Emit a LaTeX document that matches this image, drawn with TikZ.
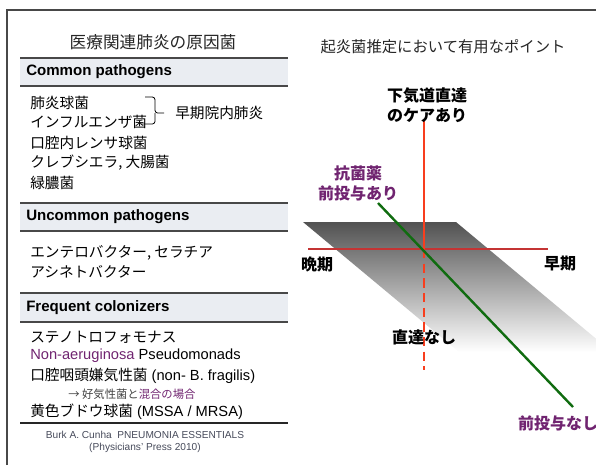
\documentclass[tikz,border=0pt]{standalone}
\usepackage{fontspec}
\setmainfont{Liberation Sans}
\newfontfamily\jp{Noto Sans CJK JP}
\usetikzlibrary{positioning,calc}
\definecolor{barfill}{RGB}{234,237,242}
\definecolor{barline}{RGB}{72,72,72}
\definecolor{plum}{RGB}{112,36,112}
\definecolor{axisred}{RGB}{196,52,52}
\definecolor{carered}{RGB}{248,62,30}
\definecolor{abxgreen}{RGB}{16,108,16}
\definecolor{refgray}{RGB}{70,74,90}
\tikzset{
  item/.style={anchor=west,inner sep=0pt,font=\jp\fontsize{11}{12}\selectfont},
  bartitle/.style={anchor=west,inner sep=0pt,font=\bfseries\fontsize{11.3}{13}\selectfont},
  axislabel/.style={inner sep=0pt,font=\jp\bfseries\fontsize{12}{15}\selectfont,align=center},
}

\begin{document}
\begin{tikzpicture}[x=0.75pt,y=-0.75pt]
\useasboundingbox (0,0) rectangle (596,465);
% frame of the left panel
\draw[barline,line width=1.2pt] (7,465) -- (7,10) -- (596,10);
\node[font=\jp\fontsize{12.5}{14}\selectfont,text=black!85] (title) at (153,42) {医療関連肺炎の原因菌};
% section bars
\foreach \ya/\yb/\name/\txt in {58/86/common/Common pathogens,203/231/uncommon/Uncommon pathogens,293/322/frequent/Frequent colonizers}{
  \fill[barfill] (20,\ya) rectangle (288,\yb);
  \draw[barline,line width=1.1pt] (20,\ya) -- (288,\ya) (20,\yb) -- (288,\yb);
  \node[bartitle] (\name) at (26,{(\ya+\yb)/2}) {\txt};
}
% common pathogens
\node[item] (spn) at (30,103) {肺炎球菌};
\node[item] (hib) at (30,122) {インフルエンザ菌};
\node[item] (strep) at (30,143) {口腔内レンサ球菌};
\node[item] (kleb) at (30,163) {クレブシエラ, 大腸菌};
\node[item] (pae) at (30,183) {緑膿菌};
\node[item] (early) at (175,113) {早期院内肺炎};
\coordinate (bt) at (145,97);
\coordinate (bb) at (141,124);
\coordinate (btip) at (164,113);
\draw[line width=0.6pt,rounded corners=2pt] (bt) -- (155,97) -- (155,113) -- (btip)
  (155,113) -- (155,124) -- (bb);
% uncommon pathogens
\node[item] (entero) at (30,253) {エンテロバクター, セラチア};
\node[item] (acin) at (30,272) {アシネトバクター};
% frequent colonizers
\node[item] (steno) at (30,337) {ステノトロフォモナス};
\node[item,font=\fontsize{11}{12}\selectfont] (pseudo) at (30,356) {\textcolor{plum}{Non-aeruginosa} Pseudomonads};
\node[item,font=\fontsize{11}{12}\selectfont] (anaer) at (30,376) {{\jp 口腔咽頭嫌気性菌} (non- B. fragilis)};
\node[item,font=\jp\fontsize{8.5}{10}\selectfont,text=black!75] (note) at (68,394) {→ 好気性菌と\textcolor{plum}{混合の場合}};
\node[item,font=\fontsize{11}{12}\selectfont] (staph) at (30,412) {{\jp 黄色ブドウ球菌} (MSSA / MRSA)};
\draw[black!85,line width=1.1pt] (20,423) -- (288,423);
\node[font=\fontsize{7.6}{9}\selectfont,text=refgray,align=center] (ref) at (145,442) {Burk A. Cunha\ \ PNEUMONIA ESSENTIALS\\(Physicians' Press 2010)};
% right panel
\node[font=\jp\fontsize{11.5}{14}\selectfont,text=black!85] (rtitle) at (443,47) {起炎菌推定において有用なポイント};
\shade[top color=black!68,middle color=black!28,bottom color=white] (303,222) -- (456,222) -- (612,352) -- (459,352) -- cycle;
\coordinate (O) at (424,249);
\coordinate (late) at (308,249);
\coordinate (earlyend) at (548,249);
\coordinate (careend) at (424,120);
\coordinate (nocareend) at (424,370);
\coordinate (abxend) at (378,203);
\coordinate (noabxend) at (573,407);
\draw[axisred,line width=1.4pt] (late) -- (earlyend);
\draw[carered,line width=1.8pt] (careend) -- (O);
\draw[carered,line width=1.8pt,dash pattern=on 7pt off 4pt] (O) -- (nocareend);
\draw[abxgreen,line width=1.8pt] (abxend) -- (noabxend);
\node[axislabel] (care) at (427,105) {下気道直達\\のケアあり};
\node[axislabel,text=plum] (abx) at (358,183) {抗菌薬\\前投与あり};
\node[axislabel] (latelbl) at (317,264) {晩期};
\node[axislabel] (earlylbl) at (560,264) {早期};
\node[axislabel] (nocare) at (424,337) {直達なし};
\node[axislabel,text=plum] (noabx) at (558,423) {前投与なし};
\end{tikzpicture}
\end{document}
